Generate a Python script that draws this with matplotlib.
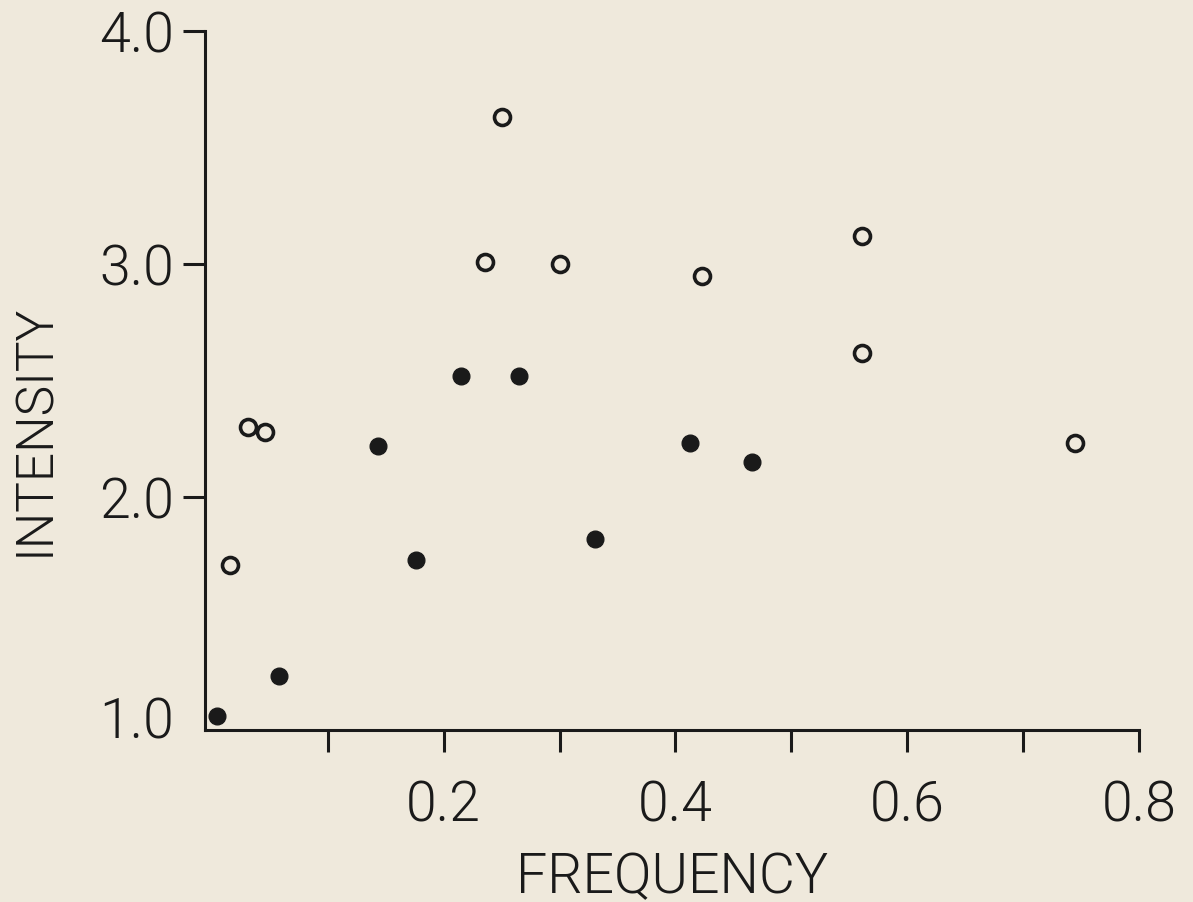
import matplotlib
matplotlib.use("Agg")
import matplotlib.pyplot as plt
from matplotlib.transforms import ScaledTranslation

# open circles
open_x = [0.031, 0.046, 0.016, 0.250, 0.236, 0.300, 0.423, 0.561, 0.561, 0.745]
open_y = [2.30, 2.28, 1.71, 3.63, 3.01, 3.00, 2.95, 3.12, 2.62, 2.23]

# filled circles
fill_x = [0.004, 0.058, 0.143, 0.176, 0.215, 0.265, 0.331, 0.413, 0.466]
fill_y = [1.06, 1.23, 2.22, 1.73, 2.52, 2.52, 1.82, 2.23, 2.15]

xticks = [0.1, 0.2, 0.3, 0.4, 0.5, 0.6, 0.7, 0.8]
xlabels = ['', '0.2', '', '0.4', '', '0.6', '', '0.8']
yticks = [1.0, 2.0, 3.0, 4.0]
ylabels = ['1.0', '2.0', '3.0', '4.0']

bg = '#efe9dc'
ink = '#1a1a1a'
plt.rcParams['font.family'] = ['Roboto', 'DejaVu Sans']

fig = plt.figure(figsize=(11.93, 9.02), dpi=100, facecolor=bg)
ax = fig.add_axes([0.1718, 0.1907, 0.7829, 0.7749], facecolor=bg)

ax.plot(open_x, open_y, 'o', ms=11.5, mfc='none', mec=ink, mew=2.6, clip_on=False)
ax.plot(fill_x, fill_y, 'o', ms=12, mfc=ink, mec=ink, clip_on=False)

ax.set_xlim(-0.006, 0.8)
ax.set_ylim(1.0, 4.0)
ax.spines['top'].set_visible(False)
ax.spines['right'].set_visible(False)
for s in ['left', 'bottom']:
    ax.spines[s].set_linewidth(2.2)
    ax.spines[s].set_color(ink)

ax.set_xticks(xticks)
ax.set_xticklabels(xlabels)
ax.set_yticks(yticks)
ax.set_yticklabels(ylabels)
ax.tick_params(axis='both', length=16, width=2.2, color=ink, labelsize=40,
               labelcolor=ink)
ax.tick_params(axis='x', pad=20)
ax.tick_params(axis='y', pad=6)
for lab in ax.get_xticklabels() + ax.get_yticklabels():
    lab.set_fontweight(300)
# no tick mark at 1.0, and its label sits a little above the axis line
ax.yaxis.get_major_ticks()[0].tick1line.set_visible(False)
lab0 = ax.get_yticklabels()[0]
lab0.set_transform(lab0.get_transform() + ScaledTranslation(0, 12 / 100, fig.dpi_scale_trans))

ax.set_xlabel('FREQUENCY', fontsize=40, fontweight=300, color=ink,
              labelpad=13)
ax.set_ylabel('INTENSITY', fontsize=37, fontweight=300, color=ink)
ax.yaxis.set_label_coords(-0.155, 0.43)

fig.savefig('out.png', dpi=100, facecolor=bg)
